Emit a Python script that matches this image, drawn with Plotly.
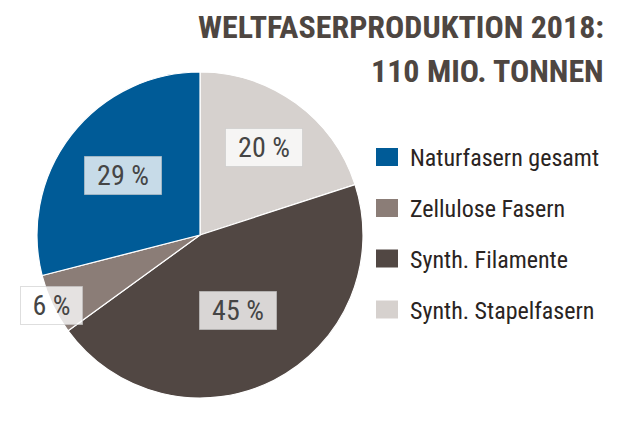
import math
import plotly.graph_objects as go

labels = ["Naturfasern gesamt", "Zellulose Fasern", "Synth. Filamente", "Synth. Stapelfasern"]
values = [29, 6, 45, 20]
colors = ["#005b97", "#8b7d77", "#514743", "#d6d1ce"]
title_lines = ["WELTFASERPRODUKTION 2018:", "110 MIO. TONNEN"]
label_radius = [0.60, 1.01, 0.52, 0.665]

FONT = "Roboto Condensed, DejaVu Sans Condensed, sans-serif"

W, H = 628, 448
OFF = 8  # page body margin
cx, cy, R = 200 - OFF, 235 - OFF, 163

# slices run clockwise from 12 o'clock in reverse legend order
pie_labels = labels[::-1]
pie_values = values[::-1]
pie_colors = colors[::-1]
pie_radius = label_radius[::-1]

fig = go.Figure()
fig.add_trace(go.Pie(
    labels=pie_labels, values=pie_values, sort=False, direction="clockwise", rotation=0,
    marker=dict(colors=pie_colors, line=dict(color="white", width=1.2)),
    textinfo="none", hoverinfo="label+percent", showlegend=False,
    domain=dict(x=[(cx - R) / W, (cx + R) / W], y=[(H - cy - R) / H, (H - cy + R) / H]),
))

total = sum(pie_values)
start = 0.0
annotations = []
for v, f in zip(pie_values, pie_radius):
    mid = (start + v / 2) / total * 2 * math.pi
    start += v
    px = cx + math.sin(mid) * R * f
    py = cy - math.cos(mid) * R * f
    txt = f"{v} %"
    annotations.append(dict(
        x=px / W, y=1 - py / H, xref="paper", yref="paper", showarrow=False,
        text=txt, font=dict(family=FONT, size=28, color="#454545"),
        width=46 + 15 * len(str(v)), height=37,
        bgcolor="rgba(255,255,255,0.78)", bordercolor="rgba(200,200,200,0.6)", borderwidth=1,
        borderpad=0, xanchor="center", yanchor="middle",
    ))

for line, ty in zip(title_lines, [27, 71]):
    annotations.append(dict(
        x=(606 - OFF) / W, y=1 - (ty - OFF) / H, xref="paper", yref="paper", showarrow=False,
        text="<b>" + line + "</b>", align="right",
        xanchor="right", yanchor="middle",
        font=dict(family=FONT, size=32, color="#4e4641"),
    ))

shapes = []
row_y = [157, 208, 258.5, 309.5]
for lab, col, ry in zip(labels, colors, row_y):
    ry -= OFF
    shapes.append(dict(type="rect", xref="paper", yref="paper",
                       x0=(376 - OFF) / W, x1=(398 - OFF) / W, y0=1 - (ry + 9) / H, y1=1 - (ry - 9) / H,
                       fillcolor=col, line=dict(width=0)))
    annotations.append(dict(
        x=(408 - OFF) / W, y=1 - (ry + 1) / H, xref="paper", yref="paper", showarrow=False,
        text=lab, xanchor="left", yanchor="middle",
        font=dict(family=FONT, size=24, color="#2a2422"),
    ))

fig.update_layout(
    width=W, height=H, margin=dict(l=0, r=0, t=0, b=0),
    paper_bgcolor="white", plot_bgcolor="white",
    annotations=annotations, shapes=shapes,
)

fig.write_html("out.html")
